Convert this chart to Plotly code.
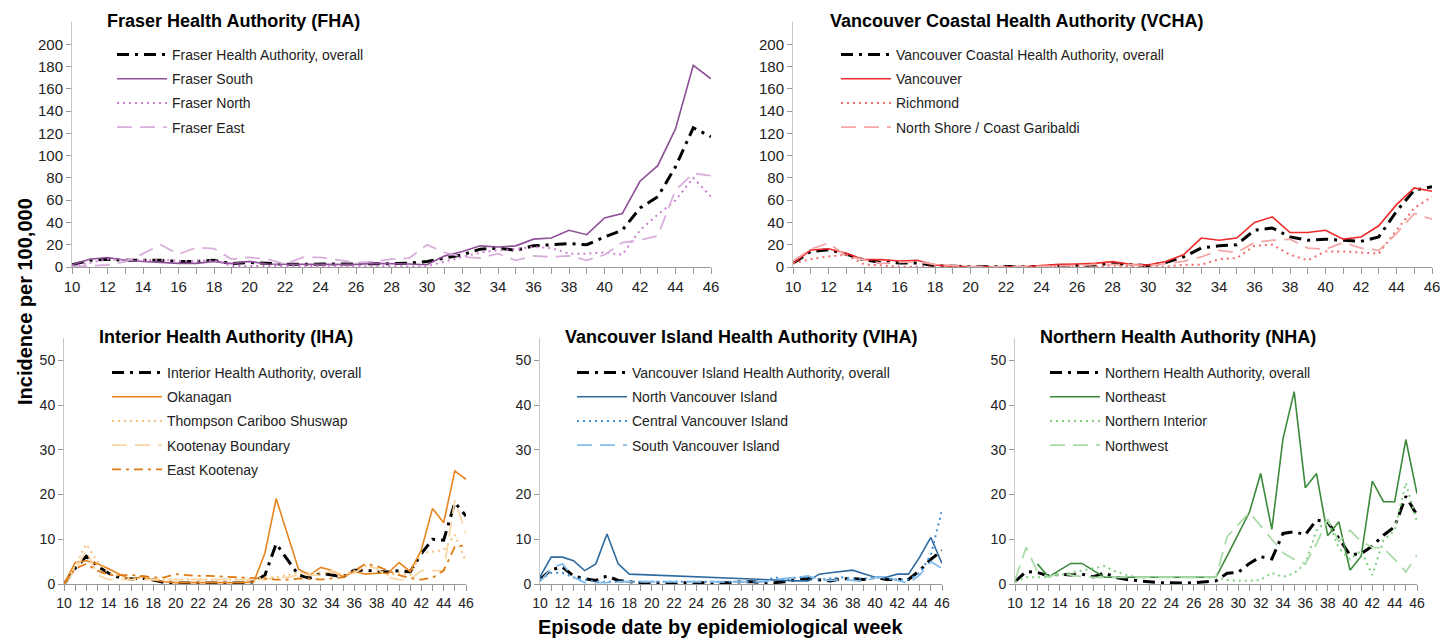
import plotly.graph_objects as go

weeks = [10, 11, 12, 13, 14, 15, 16, 17, 18, 19, 20, 21, 22, 23, 24, 25, 26, 27, 28,
         29, 30, 31, 32, 33, 34, 35, 36, 37, 38, 39, 40, 41, 42, 43, 44, 45, 46]
tick_weeks = [10, 12, 14, 16, 18, 20, 22, 24, 26, 28, 30, 32, 34, 36, 38, 40, 42, 44, 46]
ticks_top = [0, 20, 40, 60, 80, 100, 120, 140, 160, 180, 200]
ticks_bottom = [0, 10, 20, 30, 40, 50]

# ---- Fraser Health Authority ----
fha_overall = [2, 6, 7, 6, 6, 6, 5, 5, 6, 3, 4, 3, 2.5, 2.5, 2.5, 2.5, 2.5, 3, 3,
               3.5, 5, 8, 11, 16, 17, 15, 19, 20, 21, 20, 27, 33, 53, 63, 90, 125, 117]
fraser_south = [2, 7, 8.5, 6, 5, 4, 3.3, 3.3, 5, 3, 5, 2.7, 2.4, 2.4, 2.4, 2.4, 2.4, 3.3, 3.3,
                2.7, 2, 10, 14, 19, 18, 19, 25, 26, 33, 29, 44, 48, 77, 91, 124, 181, 169]
fraser_north = [0.5, 4, 7, 6.5, 6, 6.5, 5.5, 5.5, 6, 1, 1, 0.5, 0.5, 0.5, 0.5, 0.5, 0.5, 0.5, 0.5,
                0.8, 0.5, 5, 9, 13, 15, 16, 18, 17, 12, 12, 13, 11, 33, 47, 60, 80, 63]
fraser_east = [0.3, 1, 1.8, 4.8, 12, 20, 11.5, 17.5, 16.5, 7, 8.7, 7, 2.7, 8.7, 8.7, 6.3, 3.9, 4.8, 7,
               8, 20, 13, 9, 8, 12, 6, 10, 9, 10, 6, 11, 22, 24, 28, 69, 84, 82]

# ---- Vancouver Coastal Health Authority ----
vcha_overall = [3.3, 14, 15.5, 11.5, 6.3, 4.2, 3.6, 3.6, 1.2, 0.6, 0.3, 0.3, 0.3, 0.3, 0.6, 1.2, 1.2, 1.8, 3.3,
                2.4, 1.2, 4, 9, 17, 19, 20, 33, 35, 27, 24, 25, 24, 23, 27, 50, 69, 72]
vancouver = [3.3, 15.2, 16.4, 12.3, 6.6, 6.6, 5.4, 6, 1.8, 0.6, 0.2, 0.2, 0.2, 0.2, 1.2, 2.4, 2.7, 3.3, 4.8,
             2.5, 1.8, 5, 11, 26, 24, 26, 40, 45, 31, 31, 33, 25, 27, 37, 56, 71, 68]
richmond = [3.3, 7, 9.5, 11, 2.4, 1.2, 0.3, 0.3, 0.5, 0.3, 0.3, 0.3, 0.3, 0.3, 0.5, 0.5, 0.5, 0.5, 1.2,
            0.6, 0.3, 0.3, 2, 2, 7, 8, 19, 20, 11, 6, 14, 14, 13, 12, 33, 53, 63]
north_shore = [5.4, 16, 21.5, 10, 6.3, 3.3, 4.2, 4.8, 2.4, 1.2, 0.3, 0.3, 0.3, 0.3, 0.6, 1, 1.2, 2.4, 2.5,
               2, 1, 3, 5, 9, 15, 13, 22, 24, 25, 17, 16, 22, 17, 15, 30, 48, 43]

# ---- Interior Health Authority ----
iha_overall = [0, 3.5, 6.2, 4, 2.4, 1.4, 1.1, 1.3, 0.9, 0.3, 0.2, 0.2, 0.2, 0.2, 0.2, 0.2, 0.2, 0.5, 2,
               9, 5.5, 2, 1.3, 2.4, 2, 1.6, 3.1, 3.1, 2.8, 2.7, 3, 2.7, 6.8, 10, 9.8, 18.2, 15.2]
okanagan = [0, 4.8, 5.2, 4.5, 3.4, 2.1, 0.9, 1.7, 0.9, 0.5, 0.3, 0.3, 0.3, 0.3, 0.3, 0.3, 0.3, 0.5, 7,
            19.1, 11, 3.3, 2, 3.7, 3, 1.6, 2.8, 2.2, 2.4, 2.4, 4.8, 2.8, 7.6, 16.9, 13.7, 25.3, 23.4]
thompson = [0, 4, 8.9, 5, 2.4, 1.8, 1.2, 1.5, 1, 1.2, 1, 1, 1, 1, 1, 1, 1, 1, 1.5,
            1.5, 2, 2.5, 2.5, 2.5, 2.5, 2, 3, 4, 3.5, 2, 2.5, 2, 7, 7.2, 7.6, 11, 5]
kootenay_boundary = [0, 3, 7.5, 2, 1, 1, 1, 1, 1, 1, 1, 1, 1, 1, 1, 1, 1, 1, 1,
                     1.5, 1.5, 2, 2, 2, 3, 2, 2.5, 4, 3.5, 1.5, 1, 1, 3, 3, 3, 18.7, 11.3]
east_kootenay = [0, 3.5, 4.5, 3, 2, 2, 2, 1.8, 1.5, 1.5, 2.2, 2, 1.8, 1.8, 1.7, 1.5, 1.5, 1.3, 1.2,
                 1, 1, 1.2, 1.2, 1, 1.2, 1.5, 3, 4.5, 4, 3, 2, 1.3, 1, 1.4, 3, 8.3, 8.7]

# ---- Vancouver Island Health Authority ----
viha_overall = [1, 3.2, 3.8, 1.8, 1.2, 0.8, 1.8, 0.8, 0.5, 0.3, 0.3, 0.3, 0.3, 0.3, 0.3, 0.3, 0.3, 0.3, 0.5,
                0.5, 0.3, 0.3, 0.5, 1, 1.2, 1, 0.7, 1.2, 1.2, 1, 1.5, 1, 1, 1, 3, 5.5, 7.5]
north_vi = [1.6, 6, 6, 5.2, 3, 4.5, 11.2, 4.5, 2.2, 2.1, 2, 1.9, 1.8, 1.7, 1.6, 1.5, 1.4, 1.3, 1.2,
            1.1, 1, 0.8, 0.7, 0.7, 0.7, 2.2, 2.5, 2.8, 3.1, 2.3, 1.5, 1.5, 2.2, 2.2, 6, 10.4, 4.6]
central_vi = [1, 2.5, 2.5, 1.5, 1, 0.5, 0.5, 0.5, 0.5, 0.5, 0.5, 0.5, 0.5, 0.5, 0.5, 0.5, 0.5, 0.5, 0.5,
              0.5, 0.5, 1.5, 1, 1.5, 1.5, 1, 1.2, 1.5, 1.2, 1.2, 1.5, 1.2, 1, 1, 2.5, 6.5, 16.5]
south_vi = [0.5, 3.5, 4.5, 1.5, 0.3, 0.3, 0.3, 0.5, 0.5, 0.5, 0.5, 0.5, 0.5, 0.5, 0.5, 0.5, 0.5, 0.5, 0.5,
            0.5, 0.5, 1, 1.2, 1.5, 1.8, 1, 0.8, 1, 0.8, 0.5, 1.5, 1.5, 0.8, 0.2, 2, 5, 3.5]

# ---- Northern Health Authority ----
nha_overall = [0.5, 2.8, 2.6, 1.8, 2.2, 2, 2.2, 1.6, 2.5, 1.5, 1, 0.7, 0.5, 0.3, 0.2, 0.2, 0.3, 0.5, 0.7,
               2.4, 2.6, 4.6, 6.1, 5.6, 11.3, 11.7, 11, 14.3, 13.9, 10.2, 6.5, 6.8, 8.5, 10.9, 12.8, 19.6, 15.4]
northeast = [None, None, 4.5, 1.6, 3.1, 4.6, 4.6, 3.1, 1.5, 1.5, 1.5, 1.5, 1.5, 1.5, 1.5, 1.5, 1.5, 1.5, 1.5,
             6.3, 11.2, 16.1, 24.7, 12.2, 32.5, 43, 21.5, 24.7, 10.8, 13.9, 3.1, 6.2, 23, 18.4, 18.4, 32.3, 20.2]
northern_interior = [0.5, 1.5, 1.5, 1.6, 2, 2.5, 3, 3.5, 4, 2.8, 2, 1.5, 1.5, 1.5, 1.5, 1.5, 1.5, 1.5, 1.5,
                     0.9, 0.7, 0.7, 0.9, 2.5, 1.6, 2.4, 4.6, 12, 14.3, 8, 5.5, 7.5, 2, 9.8, 12, 22.6, 13.9]
northwest = [0.9, 8.2, 2.8, 1.6, 2.4, 2, 1.6, 1.5, 1.5, 1.5, 1.5, 1.5, 1.5, 1.5, 1.5, 1.5, 1.5, 1.5, 1.5,
             10.6, 13.3, 16, 13, 10, 7, 5.5, 4.5, 9, 14.5, 9.5, 12, 9.5, 8.2, 8, 5.5, 2.7, 6.5]

W, H = 1455, 641
OFF = 8  # page offset of the figure inside the browser window


def px(x):
    return (x - OFF) / W


def py(y):
    return 1 - (y - OFF) / H


FONT = "Liberation Sans, Arial, sans-serif"
OVERALL_DASH = "12px,6px,3px,6px"
DOT = "2px,4px"
LDASH = "15px,8px"

panels = [
    dict(ax="", title="Fraser Health Authority (FHA)", x0=72, x1=711, yb=267, yt=22, yr=220, tv=ticks_top,
         tx=105, ty=21, lx=112, ly=39, tfont=15,
         series=[("Fraser Health Authority, overall", fha_overall, "#000000", OVERALL_DASH, 3),
                 ("Fraser South", fraser_south, "#8e4f98", "solid", 1.6),
                 ("Fraser North", fraser_north, "#cc7fd0", DOT, 2),
                 ("Fraser East", fraser_east, "#d9b0dc", LDASH, 1.8)]),
    dict(ax="2", title="Vancouver Coastal Health Authority (VCHA)", x0=793, x1=1432, yb=267, yt=22, yr=220,
         tv=ticks_top, tx=828, ty=21, lx=836, ly=39, tfont=15,
         series=[("Vancouver Coastal Health Authority, overall", vcha_overall, "#000000", OVERALL_DASH, 3),
                 ("Vancouver", vancouver, "#ee2a2a", "solid", 1.6),
                 ("Richmond", richmond, "#f26a6a", DOT, 2),
                 ("North Shore / Coast Garibaldi", north_shore, "#f5a8a8", LDASH, 1.8)]),
    dict(ax="3", title="Interior Health Authority (IHA)", x0=64, x1=466, yb=584, yt=338, yr=55, tv=ticks_bottom,
         tx=97, ty=337, lx=107, ly=357, tfont=14,
         series=[("Interior Health Authority, overall", iha_overall, "#000000", OVERALL_DASH, 3),
                 ("Okanagan", okanagan, "#e8841c", "solid", 1.6),
                 ("Thompson Cariboo Shuswap", thompson, "#f7c27a", DOT, 2),
                 ("Kootenay Boundary", kootenay_boundary, "#f9d6a6", LDASH, 1.8),
                 ("East Kootenay", east_kootenay, "#e07a14", "9px,5px,3px,5px", 1.8)]),
    dict(ax="4", title="Vancouver Island Health Authority (VIHA)", x0=540, x1=942, yb=584, yt=338, yr=55,
         tv=ticks_bottom, tx=563, ty=337, lx=572, ly=357, tfont=14,
         series=[("Vancouver Island Health Authority, overall", viha_overall, "#000000", OVERALL_DASH, 3),
                 ("North Vancouver Island", north_vi, "#2d6a9f", "solid", 1.6),
                 ("Central Vancouver Island", central_vi, "#3d8fd6", DOT, 2),
                 ("South Vancouver Island", south_vi, "#84bbe8", LDASH, 1.8)]),
    dict(ax="5", title="Northern Health Authority (NHA)", x0=1015, x1=1417, yb=584, yt=338, yr=55,
         tv=ticks_bottom, tx=1038, ty=337, lx=1045, ly=357, tfont=14,
         series=[("Northern Health Authority, overall", nha_overall, "#000000", OVERALL_DASH, 3),
                 ("Northeast", northeast, "#3a8a3a", "solid", 1.6),
                 ("Northern Interior", northern_interior, "#7fcf7f", DOT, 2),
                 ("Northwest", northwest, "#a9dca9", LDASH, 1.8)]),
]

fig = go.Figure()
layout = dict(width=W, height=H, margin=dict(l=0, r=0, t=0, b=0, pad=0, autoexpand=False),
              paper_bgcolor="white", plot_bgcolor="white", showlegend=True,
              font=dict(family=FONT, color="#222222"))
annotations = []

for i, p in enumerate(panels):
    xa = "x" + p["ax"]
    ya = "y" + p["ax"]
    leg = "legend" + p["ax"]
    for j, (name, vals, color, dash, width) in enumerate(p["series"]):
        fig.add_trace(go.Scatter(
            x=weeks, y=vals, name=name, mode="lines",
            line=dict(color=color, dash=dash, width=width),
            xaxis=xa, yaxis=ya, legend=leg, legendgroup=f"g{i}_{j}",
            connectgaps=False, hoverinfo="skip"))
    bottom = p["ax"] in ("3", "4", "5")
    layout["xaxis" + p["ax"]] = dict(
        domain=[px(p["x0"]), px(p["x1"])], anchor=ya, range=[10, 46], tickmode="array", tickvals=tick_weeks,
        ticks="outside", ticklen=6, tickcolor="#9a9a9a", tickwidth=1,
        minor=dict(dtick=1, tick0=10, ticks="outside", ticklen=6, tickcolor="#9a9a9a"),
        showline=True, linecolor="#9a9a9a", linewidth=1, showgrid=False, zeroline=False,
        automargin=False,
        tickfont=dict(family=FONT, size=14 if bottom else 15, color="#222222"),
        fixedrange=True)
    layout["yaxis" + p["ax"]] = dict(
        domain=[py(p["yb"]), py(p["yt"])], anchor=xa, range=[0, p["yr"]], tickmode="array", tickvals=p["tv"],
        ticks="outside", ticklen=5, tickcolor="#9a9a9a", automargin=False,
        showline=True, linecolor="#c8c8c8", linewidth=1, showgrid=False, zeroline=False,
        tickfont=dict(family=FONT, size=p["tfont"], color="#222222"), fixedrange=True)
    layout[leg] = dict(
        x=px(p["lx"]), y=py(p["ly"]), xanchor="left", yanchor="top",
        bgcolor="rgba(0,0,0,0)", borderwidth=0, itemwidth=50, tracegroupgap=3,
        font=dict(family=FONT, size=14, color="#222222"), itemclick=False, itemdoubleclick=False)
    annotations.append(dict(
        text="<b>" + p["title"] + "</b>", x=px(p["tx"]), y=py(p["ty"]), xref="paper", yref="paper",
        xanchor="left", yanchor="middle", showarrow=False,
        font=dict(family=FONT, size=18, color="#000000")))

annotations.append(dict(text="<b>Incidence per 100,000</b>", x=px(25), y=py(302), xref="paper",
                        yref="paper", textangle=-90, showarrow=False, xanchor="center", yanchor="middle",
                        font=dict(family=FONT, size=20, color="#000000")))
annotations.append(dict(text="<b>Episode date by epidemiological week</b>", x=px(720), y=py(627),
                        xref="paper", yref="paper", showarrow=False, xanchor="center", yanchor="middle",
                        font=dict(family=FONT, size=20, color="#000000")))
layout["annotations"] = annotations
fig.update_layout(**layout)
fig.write_html("out.html")
